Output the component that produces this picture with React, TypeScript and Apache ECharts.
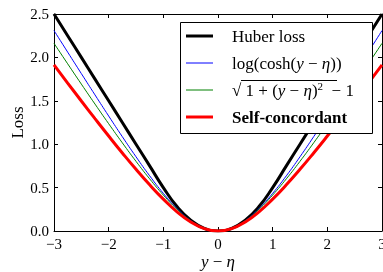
import React, { useEffect, useRef } from "react";
import * as echarts from "echarts";

const xValues = [-3, -2.75, -2.5, -2.25, -2, -1.75, -1.5, -1.25, -1, -0.75, -0.5, -0.25, 0, 0.25, 0.5, 0.75, 1, 1.25, 1.5, 1.75, 2, 2.25, 2.5, 2.75, 3];
const huberLoss = [2.5, 2.25, 2.0, 1.75, 1.5, 1.25, 1.0, 0.75, 0.5, 0.28125, 0.125, 0.03125, 0, 0.03125, 0.125, 0.28125, 0.5, 0.75, 1.0, 1.25, 1.5, 1.75, 2.0, 2.25, 2.5];
const logCoshLoss = [2.3093, 2.0609, 1.8136, 1.5679, 1.325, 1.0866, 0.8554, 0.6357, 0.4338, 0.2583, 0.1201, 0.0309, 0, 0.0309, 0.1201, 0.2583, 0.4338, 0.6357, 0.8554, 1.0866, 1.325, 1.5679, 1.8136, 2.0609, 2.3093];
const pseudoHuberLoss = [2.1623, 1.9262, 1.6926, 1.4622, 1.2361, 1.0156, 0.8028, 0.6008, 0.4142, 0.25, 0.118, 0.0308, 0, 0.0308, 0.118, 0.25, 0.4142, 0.6008, 0.8028, 1.0156, 1.2361, 1.4622, 1.6926, 1.9262, 2.1623];
const selfConcordantLoss = [1.9136, 1.7047, 1.4979, 1.2941, 1.0939, 0.8988, 0.7105, 0.5317, 0.3666, 0.2213, 0.1045, 0.0272, 0, 0.0272, 0.1045, 0.2213, 0.3666, 0.5317, 0.7105, 0.8988, 1.0939, 1.2941, 1.4979, 1.7047, 1.9136];

const seriesNames = ["Huber loss", "log(cosh(y − η))", "√(1 + (y − η)²) − 1", "Self-concordant"];

const SERIF = "'Liberation Serif', 'DejaVu Serif', serif";

function pairs(ys: number[]) {
  return xValues.map((x, i) => [x, ys[i]]);
}

export default function App() {
  const ref = useRef<HTMLDivElement>(null);
  useEffect(() => {
    if (!ref.current) return;
    const chart = echarts.init(ref.current, null, { renderer: "svg" });
    const fmtX = (v: number) => (v < 0 ? "\u2212" + Math.abs(v) : String(v));
    const axisCommon = {
      type: "value" as const,
      axisLine: { show: true, onZero: false, lineStyle: { color: "#000", width: 1 } },
      axisTick: { show: true, inside: true, length: 4, lineStyle: { color: "#000", width: 1 } },
      splitLine: { show: false },
    };
    const legendRows = [36, 63, 90, 117];
    const legendColors = ["#000000", "#0000ff", "#008000", "#ff0000"];
    const legendWidths = [3, 1, 1, 3];
    const graphic: any[] = [
      {
        type: "rect",
        shape: { x: 180.5, y: 22.5, width: 192, height: 111 },
        style: { fill: "#fff", stroke: "#000", lineWidth: 1 },
        z: 100,
      },
    ];
    legendRows.forEach((y, i) => {
      graphic.push({
        type: "line",
        shape: { x1: 186, y1: y, x2: 213, y2: y },
        style: { stroke: legendColors[i], lineWidth: legendWidths[i] },
        z: 101,
      });
    });
    const rich = {
      i: { fontStyle: "italic", fontFamily: SERIF, fontSize: 17, fill: "#000" },
      n: { fontFamily: SERIF, fontSize: 17, fill: "#000" },
      s: { fontFamily: SERIF, fontSize: 11, fill: "#000", verticalAlign: "top", padding: [0, 0, 8, 0] },
    };
    const legendTexts = [
      "{n|Huber loss}",
      "{n|log(cosh(}{i|y}{n| − }{i|η}{n|))}",
      "{n|√ 1 + (}{i|y}{n| − }{i|η}{n|)}{s|2}{n|  − 1}",
      "",
    ];
    legendTexts.forEach((t, i) => {
      if (i === 3) {
        graphic.push({
          type: "text",
          x: 232,
          y: legendRows[i],
          style: { text: seriesNames[3], font: "bold 17px " + SERIF, fill: "#000", verticalAlign: "middle" },
          z: 101,
        });
      } else {
        graphic.push({
          type: "text",
          x: 232,
          y: legendRows[i],
          style: { text: t, rich, font: "17px " + SERIF, fill: "#000", verticalAlign: "middle" },
          z: 101,
        });
      }
    });
    graphic.push({
      type: "line",
      shape: { x1: 241, y1: 80.5, x2: 337, y2: 80.5 },
      style: { stroke: "#000", lineWidth: 1 },
      z: 101,
    });

    chart.setOption({
      animation: false,
      grid: { left: 54, right: 1, top: 14, bottom: 41, containLabel: false, outerBoundsMode: "none" },
      xAxis: [
        {
          ...axisCommon,
          position: "bottom",
          min: -3,
          max: 3,
          interval: 1,
          name: "{i|y} − {i|η}",
          nameLocation: "middle",
          nameGap: 22,
          nameMoveOverlap: false,
          nameTextStyle: {
            fontFamily: SERIF,
            fontSize: 17,
            color: "#000",
            lineHeight: 17,
            rich: { i: { fontStyle: "italic", fontFamily: SERIF, fontSize: 17, color: "#000", lineHeight: 17 } },
          },
          axisLabel: { formatter: fmtX, fontFamily: SERIF, fontSize: 15, color: "#000", margin: 5 },
        },
        {
          ...axisCommon,
          position: "top",
          min: -3,
          max: 3,
          interval: 1,
          axisLabel: { show: false },
        },
      ],
      yAxis: [
        {
          ...axisCommon,
          position: "left",
          min: 0,
          max: 2.5,
          interval: 0.5,
          name: "Loss",
          nameLocation: "middle",
          nameRotate: 90,
          nameGap: 28,
          nameMoveOverlap: false,
          nameTextStyle: { fontFamily: SERIF, fontSize: 17, color: "#000", lineHeight: 17 },
          axisLabel: { formatter: (v: number) => v.toFixed(1), fontFamily: SERIF, fontSize: 15, color: "#000", margin: 5 },
        },
        {
          ...axisCommon,
          position: "right",
          min: 0,
          max: 2.5,
          interval: 0.5,
          axisLabel: { show: false },
        },
      ],
      series: [
        { name: seriesNames[0], type: "line", data: pairs(huberLoss), smooth: true, showSymbol: false, symbol: "none", lineStyle: { color: "#000000", width: 3 }, itemStyle: { color: "#000000" }, z: 2 },
        { name: seriesNames[1], type: "line", data: pairs(logCoshLoss), smooth: true, showSymbol: false, symbol: "none", lineStyle: { color: "#0000ff", width: 1 }, itemStyle: { color: "#0000ff" }, z: 3 },
        { name: seriesNames[2], type: "line", data: pairs(pseudoHuberLoss), smooth: true, showSymbol: false, symbol: "none", lineStyle: { color: "#008000", width: 1 }, itemStyle: { color: "#008000" }, z: 4 },
        { name: seriesNames[3], type: "line", data: pairs(selfConcordantLoss), smooth: true, showSymbol: false, symbol: "none", lineStyle: { color: "#ff0000", width: 3 }, itemStyle: { color: "#ff0000" }, z: 5 },
      ],
      graphic,
    });
    return () => chart.dispose();
  }, []);
  return <div ref={ref} style={{ position: "fixed", left: 0, top: 0, width: 383, height: 272 }} />;
}
